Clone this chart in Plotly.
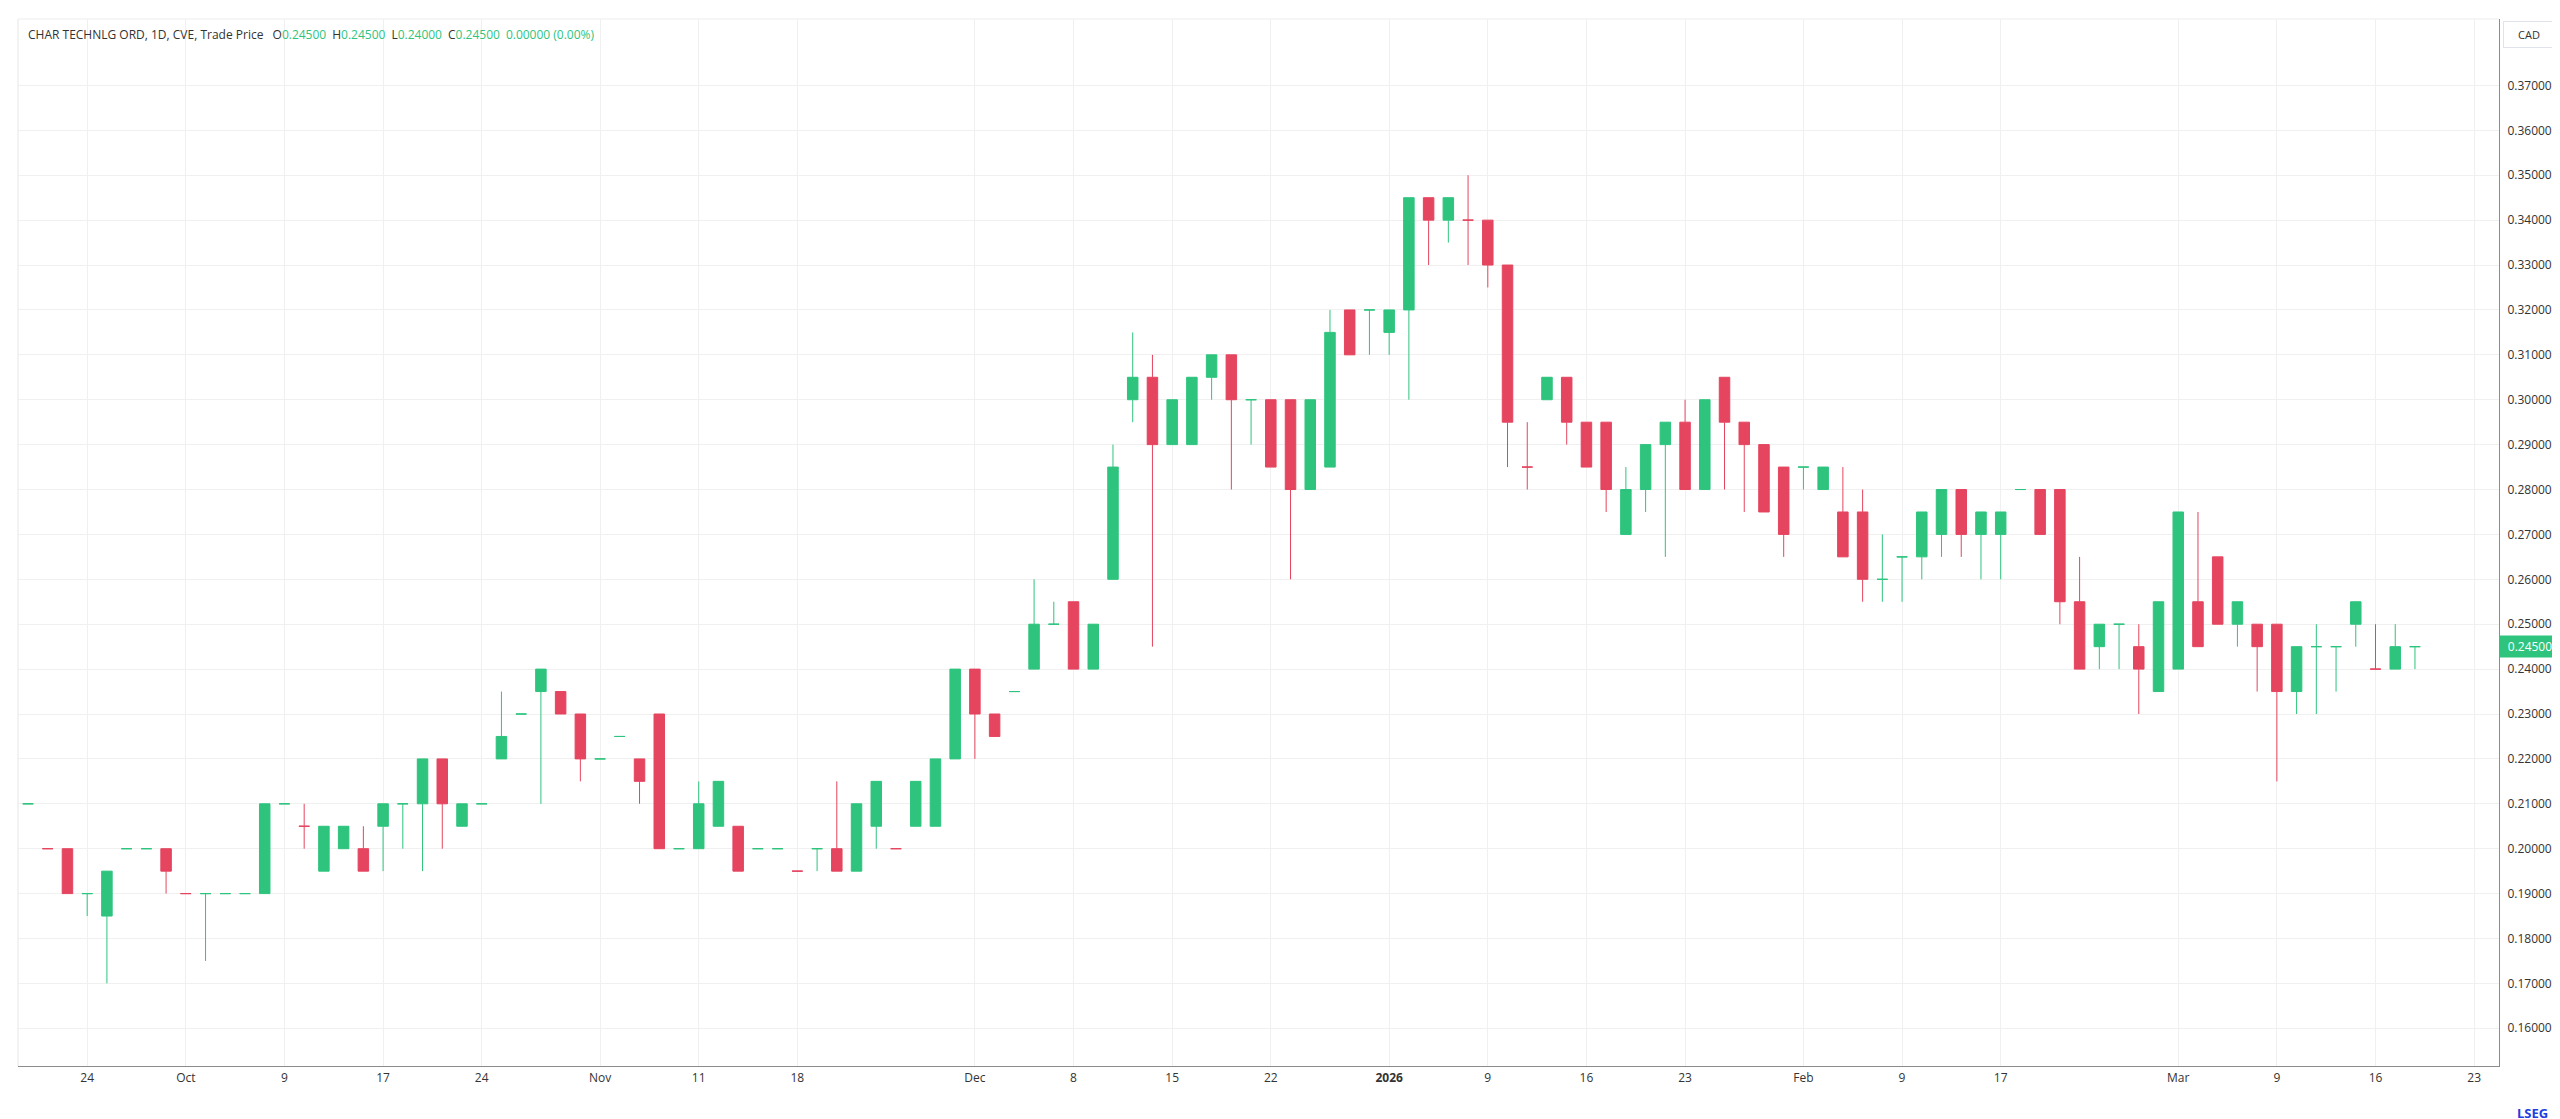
import numpy as np
import plotly.graph_objects as go

# trading days that have a bar (illiquid days with no trade are simply absent)
dates = [
    "2025-09-19", "2025-09-22", "2025-09-23", "2025-09-24", "2025-09-25", "2025-09-26", "2025-09-29", "2025-09-30",
    "2025-10-01", "2025-10-02", "2025-10-03", "2025-10-06", "2025-10-07", "2025-10-09", "2025-10-10", "2025-10-14",
    "2025-10-15", "2025-10-16", "2025-10-17", "2025-10-20", "2025-10-21", "2025-10-22", "2025-10-23", "2025-10-24",
    "2025-10-27", "2025-10-28", "2025-10-29", "2025-10-30", "2025-10-31",
    "2025-11-03", "2025-11-04", "2025-11-05", "2025-11-06", "2025-11-07", "2025-11-11", "2025-11-12", "2025-11-13",
    "2025-11-14", "2025-11-17", "2025-11-18", "2025-11-19", "2025-11-20", "2025-11-21", "2025-11-24", "2025-11-25",
    "2025-11-26", "2025-11-27", "2025-11-28",
    "2025-12-01", "2025-12-02", "2025-12-03", "2025-12-04", "2025-12-05", "2025-12-08", "2025-12-09", "2025-12-10",
    "2025-12-11", "2025-12-12", "2025-12-15", "2025-12-16", "2025-12-17", "2025-12-18", "2025-12-19", "2025-12-22",
    "2025-12-23", "2025-12-24", "2025-12-29", "2025-12-30", "2025-12-31",
    "2026-01-02", "2026-01-05", "2026-01-06", "2026-01-07", "2026-01-08", "2026-01-09", "2026-01-12", "2026-01-13",
    "2026-01-14", "2026-01-15", "2026-01-16", "2026-01-19", "2026-01-20", "2026-01-21", "2026-01-22", "2026-01-23",
    "2026-01-26", "2026-01-27", "2026-01-28", "2026-01-29", "2026-01-30",
    "2026-02-02", "2026-02-03", "2026-02-04", "2026-02-05", "2026-02-06", "2026-02-09", "2026-02-10", "2026-02-11",
    "2026-02-12", "2026-02-13", "2026-02-17", "2026-02-18", "2026-02-19", "2026-02-20", "2026-02-23", "2026-02-24",
    "2026-02-25", "2026-02-26", "2026-02-27",
    "2026-03-02", "2026-03-03", "2026-03-04", "2026-03-05", "2026-03-06", "2026-03-09", "2026-03-10", "2026-03-11",
    "2026-03-12", "2026-03-13", "2026-03-16", "2026-03-17", "2026-03-18",
]

opens = [
    0.21, 0.20, 0.20, 0.19, 0.185, 0.20, 0.20, 0.20,
    0.19, 0.19, 0.19, 0.19, 0.19, 0.21, 0.205, 0.195, 0.20, 0.20, 0.205, 0.21, 0.21, 0.22, 0.205, 0.21,
    0.22, 0.23, 0.235, 0.235, 0.23,
    0.22, 0.225, 0.22, 0.23, 0.20, 0.20, 0.205, 0.205, 0.20, 0.20, 0.195, 0.20, 0.20, 0.195, 0.205, 0.20,
    0.205, 0.205, 0.22,
    0.24, 0.23, 0.235, 0.24, 0.25, 0.255, 0.24, 0.26, 0.30, 0.305, 0.29, 0.29, 0.305, 0.31, 0.30, 0.30,
    0.30, 0.28, 0.285, 0.32, 0.32,
    0.315, 0.32, 0.345, 0.34, 0.34, 0.34, 0.33, 0.285, 0.30, 0.305, 0.295, 0.295, 0.27, 0.28, 0.29, 0.295,
    0.28, 0.305, 0.295, 0.29, 0.285,
    0.285, 0.28, 0.275, 0.275, 0.26, 0.265, 0.265, 0.27, 0.28, 0.27, 0.27, 0.28, 0.28, 0.28, 0.255, 0.245,
    0.25, 0.245, 0.235,
    0.24, 0.255, 0.265, 0.25, 0.25, 0.25, 0.235, 0.245, 0.245, 0.25, 0.24, 0.24, 0.245,
]

highs = [
    0.21, 0.20, 0.20, 0.19, 0.195, 0.20, 0.20, 0.20,
    0.19, 0.19, 0.19, 0.19, 0.21, 0.21, 0.21, 0.205, 0.205, 0.205, 0.21, 0.21, 0.22, 0.22, 0.21, 0.21,
    0.235, 0.23, 0.24, 0.235, 0.23,
    0.22, 0.225, 0.22, 0.23, 0.20, 0.215, 0.215, 0.205, 0.20, 0.20, 0.195, 0.20, 0.215, 0.21, 0.215, 0.20,
    0.215, 0.22, 0.24,
    0.24, 0.23, 0.235, 0.26, 0.255, 0.255, 0.25, 0.29, 0.315, 0.31, 0.30, 0.305, 0.31, 0.31, 0.30, 0.30,
    0.30, 0.30, 0.32, 0.32, 0.32,
    0.32, 0.345, 0.345, 0.345, 0.35, 0.34, 0.33, 0.295, 0.305, 0.305, 0.295, 0.295, 0.285, 0.29, 0.295, 0.30,
    0.30, 0.305, 0.295, 0.29, 0.285,
    0.285, 0.285, 0.285, 0.28, 0.27, 0.265, 0.275, 0.28, 0.28, 0.275, 0.275, 0.28, 0.28, 0.28, 0.265, 0.25,
    0.25, 0.25, 0.255,
    0.275, 0.275, 0.265, 0.255, 0.25, 0.25, 0.245, 0.25, 0.245, 0.255, 0.25, 0.25, 0.245,
]

lows = [
    0.21, 0.20, 0.19, 0.185, 0.17, 0.20, 0.20, 0.19,
    0.19, 0.175, 0.19, 0.19, 0.19, 0.21, 0.20, 0.195, 0.20, 0.195, 0.195, 0.20, 0.195, 0.20, 0.205, 0.21,
    0.22, 0.23, 0.21, 0.23, 0.215,
    0.22, 0.225, 0.21, 0.20, 0.20, 0.20, 0.205, 0.195, 0.20, 0.20, 0.195, 0.195, 0.195, 0.195, 0.20, 0.20,
    0.205, 0.205, 0.22,
    0.22, 0.225, 0.235, 0.24, 0.25, 0.24, 0.24, 0.26, 0.295, 0.245, 0.29, 0.29, 0.30, 0.28, 0.29, 0.285,
    0.26, 0.28, 0.285, 0.31, 0.31,
    0.31, 0.30, 0.33, 0.335, 0.33, 0.325, 0.285, 0.28, 0.30, 0.29, 0.285, 0.275, 0.27, 0.275, 0.265, 0.28,
    0.28, 0.28, 0.275, 0.275, 0.265,
    0.28, 0.28, 0.265, 0.255, 0.255, 0.255, 0.26, 0.265, 0.265, 0.26, 0.26, 0.28, 0.27, 0.25, 0.24, 0.24,
    0.24, 0.23, 0.235,
    0.24, 0.245, 0.25, 0.245, 0.235, 0.215, 0.23, 0.23, 0.235, 0.245, 0.24, 0.24, 0.24,
]

closes = [
    0.21, 0.20, 0.19, 0.19, 0.195, 0.20, 0.20, 0.195,
    0.19, 0.19, 0.19, 0.19, 0.21, 0.21, 0.205, 0.205, 0.205, 0.195, 0.21, 0.21, 0.22, 0.21, 0.21, 0.21,
    0.225, 0.23, 0.24, 0.23, 0.22,
    0.22, 0.225, 0.215, 0.20, 0.20, 0.21, 0.215, 0.195, 0.20, 0.20, 0.195, 0.20, 0.195, 0.21, 0.215, 0.20,
    0.215, 0.22, 0.24,
    0.23, 0.225, 0.235, 0.25, 0.25, 0.24, 0.25, 0.285, 0.305, 0.29, 0.30, 0.305, 0.31, 0.30, 0.30, 0.285,
    0.28, 0.30, 0.315, 0.31, 0.32,
    0.32, 0.345, 0.34, 0.345, 0.34, 0.33, 0.295, 0.285, 0.305, 0.295, 0.285, 0.28, 0.28, 0.29, 0.295, 0.28,
    0.30, 0.295, 0.29, 0.275, 0.27,
    0.285, 0.285, 0.265, 0.26, 0.26, 0.265, 0.275, 0.28, 0.27, 0.275, 0.275, 0.28, 0.27, 0.255, 0.24, 0.25,
    0.25, 0.24, 0.255,
    0.275, 0.245, 0.25, 0.255, 0.245, 0.235, 0.245, 0.245, 0.245, 0.255, 0.24, 0.245, 0.245,
]

# empty slots to the right of the last bar
future_days = ["2026-03-19", "2026-03-20", "2026-03-23"]

tick_dates = [
    "2025-09-24", "2025-10-01", "2025-10-09", "2025-10-17", "2025-10-24", "2025-11-03", "2025-11-11", "2025-11-18",
    "2025-12-01", "2025-12-08", "2025-12-15", "2025-12-22", "2026-01-02", "2026-01-09", "2026-01-16", "2026-01-23",
    "2026-02-02", "2026-02-09", "2026-02-17", "2026-03-02", "2026-03-09", "2026-03-16", "2026-03-23",
]
tick_labels = [
    "24", "Oct", "9", "17", "24", "Nov", "11", "18",
    "Dec", "8", "15", "22", "<b>2026</b>", "9", "16", "23",
    "Feb", "9", "17", "Mar", "9", "16", "23",
]

price_ticks = [0.16, 0.17, 0.18, 0.19, 0.20, 0.21, 0.22, 0.23, 0.24, 0.25, 0.26,
               0.27, 0.28, 0.29, 0.30, 0.31, 0.32, 0.33, 0.34, 0.35, 0.36, 0.37]

UP = "#2EC47E"
DOWN = "#E5455F"
GRID = "#F0F0F0"
AXIS = "#8C8C8C"
TEXT = "#333333"
FONT = "Open Sans"

o = np.array(opens)
h = np.array(highs)
l = np.array(lows)
c = np.array(closes)

# colour like the terminal: body direction, dojis compared with the previous close
prev_close = np.concatenate([[c[0]], c[:-1]])
is_up = (c > o) | ((c == o) & (c >= prev_close))

axis_days = dates + future_days
pos = np.arange(len(dates))
tick_pos = [axis_days.index(d) for d in tick_dates]

fig = go.Figure()
for mask, color in [(is_up, UP), (~is_up, DOWN)]:
    style = dict(line=dict(color=color, width=1), fillcolor=color)
    fig.add_trace(go.Candlestick(
        x=pos[mask], open=o[mask], high=h[mask], low=l[mask], close=c[mask],
        increasing=style, decreasing=style,
        whiskerwidth=0, showlegend=False, hoverinfo="skip",
    ))

# header line with OHLC of the last bar
val = lambda v: f"<span style='color:{UP}'>{v:.5f}</span>"
chg = c[-1] - c[-2]
pct = chg / c[-2] * 100
header = (
    "CHAR TECHNLG ORD, 1D, CVE, Trade Price\u2002 "
    f"O{val(o[-1])}\u2002H{val(h[-1])}\u2002L{val(l[-1])}\u2002C{val(c[-1])}\u2002"
    f"<span style='color:{UP}'>{chg:.5f} ({pct:.2f}%)</span>"
)

last_color = UP if is_up[-1] else DOWN

fig.update_layout(
    width=2560,
    height=1119,
    margin=dict(l=10, r=69, t=11, b=61),
    paper_bgcolor="white",
    plot_bgcolor="white",
    boxgap=0.24,
    font=dict(family=FONT, size=12, color=TEXT),
    xaxis=dict(
        range=[-0.507, 125.26],
        tickmode="array",
        tickvals=tick_pos,
        ticktext=tick_labels,
        showgrid=True,
        gridcolor=GRID,
        zeroline=False,
        showline=True,
        linecolor=AXIS,
        linewidth=1,
        ticks="",
        ticklabelstandoff=1,
        rangeslider=dict(visible=False),
        tickfont=dict(size=12, color=TEXT),
    ),
    yaxis=dict(
        side="right",
        range=[0.1516, 0.3848],
        tickmode="array",
        tickvals=price_ticks,
        tickformat=".5f",
        showgrid=True,
        gridcolor=GRID,
        zeroline=False,
        showline=True,
        linecolor=AXIS,
        linewidth=1,
        ticks="",
        ticklabelstandoff=5,
        tickfont=dict(size=12, color=TEXT),
    ),
    shapes=[
        dict(type="line", xref="paper", yref="paper", x0=0, x1=0, y0=0, y1=1,
             line=dict(color="#E6E6E6", width=1)),
        dict(type="line", xref="paper", yref="paper", x0=0, x1=1, y0=1, y1=1,
             line=dict(color="#EDEDED", width=1)),
    ],
    annotations=[
        dict(text=header, xref="paper", yref="paper", x=0, y=1, xanchor="left", yanchor="middle",
             xshift=8, yshift=-15, showarrow=False, font=dict(size=12, color=TEXT)),
        dict(text=f"{c[-1]:.5f}", xref="paper", yref="y", x=1, y=c[-1], xanchor="left", yanchor="middle",
             showarrow=False, bgcolor=last_color, borderpad=2, width=56,
             font=dict(size=12, color="white")),
        dict(text="CAD", xref="paper", yref="paper", x=1, y=1, xanchor="left", yanchor="top",
             xshift=4, yshift=-2, showarrow=False, bgcolor="white", bordercolor="#E0E3EB",
             borderwidth=1, borderpad=5, width=40, font=dict(size=11, color=TEXT)),
        dict(text="<b>LSEG</b>", xref="paper", yref="paper", x=1, y=0, xanchor="center", yanchor="middle",
             xshift=33, yshift=-47, showarrow=False, font=dict(size=13, color="#1E3FE0")),
    ],
)

fig.write_html("out.html")
